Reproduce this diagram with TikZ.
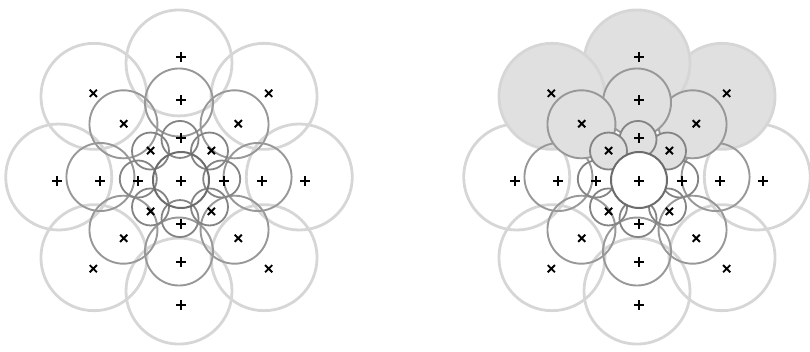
\documentclass[tikz,border=0pt]{standalone}
\usepackage{xcolor}
\usepackage{tikz}
\definecolor{ringouter}{RGB}{214,214,214}
\definecolor{ringmid}{RGB}{152,152,152}
\definecolor{ringinner}{RGB}{132,132,132}
\definecolor{ringcore}{RGB}{108,108,108}
\definecolor{shadegray}{RGB}{224,224,224}

\begin{document}
\begin{tikzpicture}[x=1pt, y=-1pt,
    outer/.style={draw=ringouter, line width=2.8pt},
    middle/.style={draw=ringmid, line width=1.9pt},
    inner/.style={draw=ringinner, line width=1.8pt},
    core/.style={draw=ringcore, line width=2pt},
    shaded/.style={fill=shadegray},
    plusmark/.pic={\draw[line width=2.1pt] (-5,0) -- (5,0) (0,-5) -- (0,5);},
    crossmark/.pic={\draw[line width=1.9pt] (-3.6,-3.6) -- (3.6,3.6) (-3.6,3.6) -- (3.6,-3.6);}
]
\useasboundingbox (0,0) rectangle (810,351);

% left cluster: all rings open
\begin{scope}[shift={(181,181)}]
  \foreach \a in {0,45,...,315}
    \draw[outer] ({-2+0.97*124*cos(\a)},{-4-0.92*124*sin(\a)}) circle[radius=53pt];
  \foreach \a in {0,45,...,315}
    \draw[middle] ({-2+0.97*81*cos(\a)},{-4-0.92*81*sin(\a)}) circle[radius=34pt];
  \foreach \a in {0,45,...,315}
    \draw[inner] ({-1+0.97*43*cos(\a)},{-2-0.92*43*sin(\a)}) circle[radius=18.5pt];
  \draw[core] (0,-1) circle[radius=28pt];
  % markers
  \pic at (0,0) {plusmark};
  \foreach \d in {43,81,124} {
    \foreach \a in {0,90,180,270}
      \pic at ({\d*cos(\a)},{-\d*sin(\a)}) {plusmark};
    \foreach \a in {45,135,225,315}
      \pic at ({\d*cos(\a)},{-\d*sin(\a)}) {crossmark};
  }
\end{scope}

% right cluster: upper circles shaded
\begin{scope}[shift={(639,181)}]
  \foreach \a in {0,180,225,270,315}
    \draw[outer] ({-2+0.97*124*cos(\a)},{-4-0.92*124*sin(\a)}) circle[radius=53pt];
  \foreach \a in {45,90,135}
    \draw[outer, shaded] ({-2+0.97*124*cos(\a)},{-4-0.92*124*sin(\a)}) circle[radius=53pt];
  \foreach \a in {0,180,225,270,315}
    \draw[middle] ({-2+0.97*81*cos(\a)},{-4-0.92*81*sin(\a)}) circle[radius=34pt];
  \foreach \a in {45,90,135}
    \draw[middle, shaded] ({-2+0.97*81*cos(\a)},{-4-0.92*81*sin(\a)}) circle[radius=34pt];
  \foreach \a in {0,180,225,270,315}
    \draw[inner] ({-1+0.97*43*cos(\a)},{-2-0.92*43*sin(\a)}) circle[radius=18.5pt];
  \foreach \a in {45,90,135}
    \draw[inner, shaded] ({-1+0.97*43*cos(\a)},{-2-0.92*43*sin(\a)}) circle[radius=18.5pt];
  \draw[core, fill=white] (0,-1) circle[radius=28pt];
  % markers
  \pic at (0,0) {plusmark};
  \foreach \d in {43,81,124} {
    \foreach \a in {0,90,180,270}
      \pic at ({\d*cos(\a)},{-\d*sin(\a)}) {plusmark};
    \foreach \a in {45,135,225,315}
      \pic at ({\d*cos(\a)},{-\d*sin(\a)}) {crossmark};
  }
\end{scope}
\end{tikzpicture}
\end{document}
